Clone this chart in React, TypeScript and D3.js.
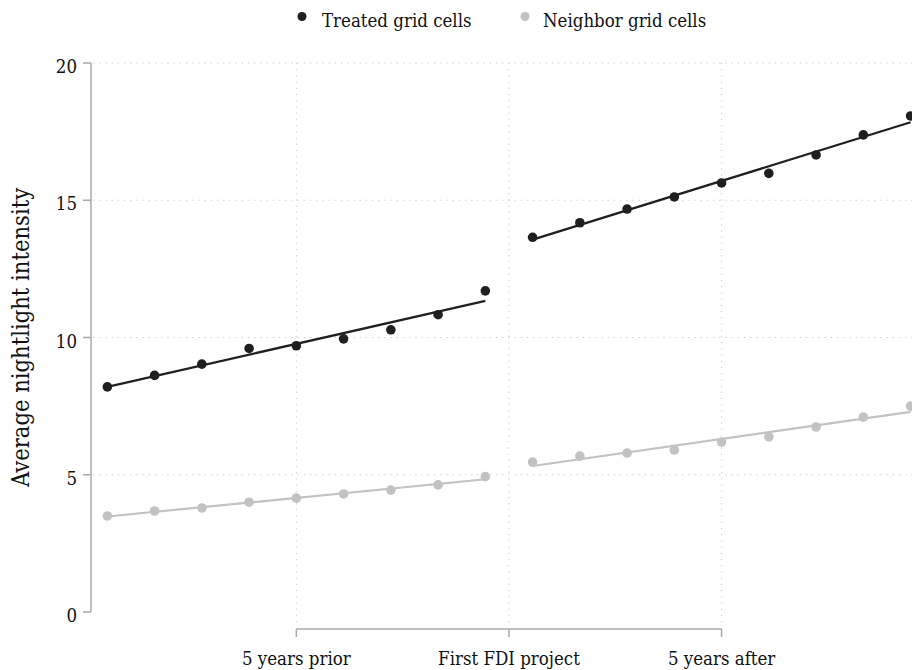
import React from "react";
import * as d3 from "d3";

// Event-time positions (half-year offsets around the first FDI project)
const prePeriods = [-8.5, -7.5, -6.5, -5.5, -4.5, -3.5, -2.5, -1.5, -0.5];
const postPeriods = [0.5, 1.5, 2.5, 3.5, 4.5, 5.5, 6.5, 7.5, 8.5];

const treatedPre = [8.2, 8.62, 9.03, 9.6, 9.7, 9.95, 10.28, 10.83, 11.7];
const treatedPost = [13.65, 14.18, 14.68, 15.12, 15.63, 15.98, 16.65, 17.38, 18.07];
const neighborPre = [3.5, 3.68, 3.79, 4.0, 4.15, 4.3, 4.44, 4.63, 4.93];
const neighborPost = [5.46, 5.68, 5.79, 5.9, 6.19, 6.38, 6.74, 7.1, 7.5];

const xTickValues = [-4.5, 0, 4.5];
const xTickLabels = ["5 years prior", "First FDI project", "5 years after"];
const yTickValues = [0, 5, 10, 15, 20];

const seriesNames = ["Treated grid cells", "Neighbor grid cells"];
const seriesColors = ["#1f1f1f", "#c2c2c2"];

const FONT = "'DejaVu Serif Condensed', 'DejaVu Serif', serif";

function ols(xs: number[], ys: number[]) {
  const mx = d3.mean(xs)!;
  const my = d3.mean(ys)!;
  let num = 0,
    den = 0;
  xs.forEach((x, i) => {
    num += (x - mx) * (ys[i] - my);
    den += (x - mx) * (x - mx);
  });
  const b = num / den;
  const a = my - b * mx;
  return (x: number) => a + b * x;
}

export default function App() {
  const W = 912,
    H = 670;
  const x = d3.scaleLinear().domain([-8.825, 8.53]).range([92, 912]);
  const y = d3.scaleLinear().domain([0, 20]).range([612, 63]);

  const groups = [
    { xs: prePeriods, ys: neighborPre, c: seriesColors[1] },
    { xs: postPeriods, ys: neighborPost, c: seriesColors[1] },
    { xs: prePeriods, ys: treatedPre, c: seriesColors[0] },
    { xs: postPeriods, ys: treatedPost, c: seriesColors[0] },
  ];

  const gridColor = "#c8c8c8";
  const axisColor = "#a8a8a8";
  const textColor = "#111";

  return (
    <svg
      width={W}
      height={H}
      style={{ position: "absolute", left: 0, top: 0, background: "#fff", fontStretch: "condensed" }}
      fontFamily={FONT}
    >
      <rect x={0} y={0} width={W} height={H} fill="#fff" />
      {/* horizontal grid */}
      {yTickValues.slice(1).map((v) => (
        <line
          key={"hg" + v}
          x1={93}
          x2={W}
          y1={y(v)}
          y2={y(v)}
          stroke={gridColor}
          strokeWidth={1}
          strokeDasharray="1.2,5"
        />
      ))}
      {/* vertical grid */}
      {xTickValues.map((v) => (
        <line
          key={"vg" + v}
          x1={x(v)}
          x2={x(v)}
          y1={y(20)}
          y2={624}
          stroke={gridColor}
          strokeWidth={1}
          strokeDasharray="1.2,5"
        />
      ))}
      {/* y axis */}
      <line x1={91} x2={91} y1={y(20)} y2={y(0)} stroke={axisColor} strokeWidth={1.5} />
      {yTickValues.map((v) => (
        <g key={"yt" + v}>
          <line x1={83} x2={91} y1={y(v)} y2={y(v)} stroke={axisColor} strokeWidth={1.5} />
          <text x={77} y={y(v) + 10} textAnchor="end" fontSize={18.5} fill={textColor}>
            {v}
          </text>
        </g>
      ))}
      <text
        transform={`translate(29, ${y(10)}) rotate(-90)`}
        textAnchor="middle"
        fontSize={23.5}
        fill={textColor}
      >
        Average nightlight intensity
      </text>
      {/* x axis */}
      <line
        x1={x(xTickValues[0])}
        x2={x(xTickValues[xTickValues.length - 1])}
        y1={629}
        y2={629}
        stroke={axisColor}
        strokeWidth={1.5}
      />
      {xTickValues.map((v, i) => (
        <g key={"xt" + v}>
          <line x1={x(v)} x2={x(v)} y1={629} y2={637} stroke={axisColor} strokeWidth={1.5} />
          <text x={x(v)} y={665} textAnchor="middle" fontSize={18.5} fill={textColor}>
            {xTickLabels[i]}
          </text>
        </g>
      ))}
      {/* fit lines and points */}
      {groups.map((g, gi) => {
        const f = ols(g.xs, g.ys);
        const x0 = g.xs[0],
          x1 = g.xs[g.xs.length - 1];
        return (
          <g key={"g" + gi}>
            <line
              x1={x(x0)}
              x2={x(x1)}
              y1={y(f(x0))}
              y2={y(f(x1))}
              stroke={g.c}
              strokeWidth={2.2}
            />
            {g.xs.map((xv, i) => (
              <circle key={i} cx={x(xv)} cy={y(g.ys[i])} r={4.8} fill={g.c} />
            ))}
          </g>
        );
      })}
      {/* legend */}
      <circle cx={302} cy={16.5} r={4.5} fill={seriesColors[0]} />
      <text x={322} y={27} fontSize={18.5} fill={textColor}>
        {seriesNames[0]}
      </text>
      <circle cx={525} cy={16.5} r={4.5} fill={seriesColors[1]} />
      <text x={543} y={27} fontSize={18.5} fill={textColor}>
        {seriesNames[1]}
      </text>
    </svg>
  );
}
